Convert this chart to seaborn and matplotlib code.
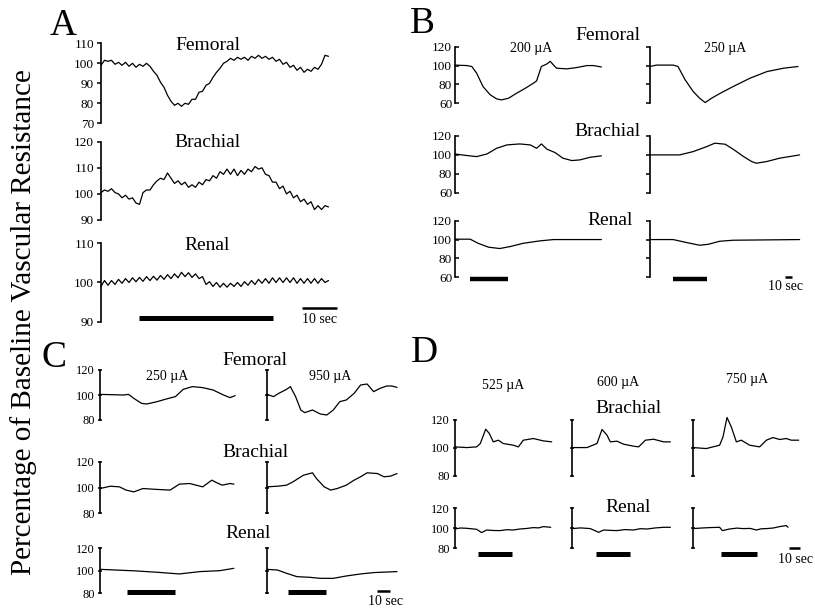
import matplotlib
matplotlib.use("Agg")
from matplotlib import pyplot as plt
import seaborn as sns

W, H = 815, 610

# ---------------- panel A : 1 s samples over 65 s ----------------
a_t = list(range(66))
a_femoral = [99, 101.5, 101, 101.5, 99.5, 100.5, 99, 100.5, 98.5, 100,
             98, 99.5, 98.5, 100, 98.5, 96, 94, 90.5, 88, 84,
             81, 79, 80, 78.5, 80, 79.5, 82, 82, 85.5, 86,
             89, 90, 93, 95.5, 97.5, 100, 101, 102.5, 101.5, 103,
             102, 103, 101.5, 103.5, 102.5, 104, 102.5, 103.5, 102, 103,
             101, 102, 99.5, 100.5, 98, 99, 96.5, 98, 95.5, 97,
             96, 98, 97, 99.5, 104, 103.5]
a_brachial = [100.5, 101.5, 101, 102, 100.5, 100, 98.5, 99.5, 98, 98.5,
              96.5, 96, 100.5, 101.5, 101.5, 103.5, 105, 106, 105.5, 108,
              106, 104, 105, 103.5, 104.5, 102.5, 103.5, 102.5, 104.5, 103.5,
              105.5, 105, 107, 106, 108.5, 107.5, 109.5, 107.5, 109.5, 107,
              109, 107.5, 109.5, 108.5, 110.5, 109.5, 110, 107.5, 107, 104.5,
              104.5, 102, 103, 100, 101, 98.5, 99.5, 97, 98, 96,
              97, 94, 95.5, 94, 95.5, 95]
a_renal = [99, 100.5, 99.3, 100.5, 99.5, 100.8, 99.8, 101, 100, 101.2,
           100.2, 101.3, 100.3, 101.5, 100.5, 101.6, 100.6, 101.8, 100.8, 102,
           101, 102.2, 101.2, 102.6, 101.5, 102.5, 101.3, 102.2, 101, 101.5,
           99.5, 100.2, 99, 100, 98.8, 99.8, 98.8, 99.8, 99, 100,
           99, 100.2, 99.3, 100.5, 99.5, 100.8, 99.8, 101, 99.8, 101.2,
           100, 101.2, 100, 101.2, 100, 101.2, 99.8, 101, 99.8, 101,
           99.8, 101, 99.8, 101, 100, 100.5]
a_stim = [10.9, 49.1]

# ---------------- panel B : 200 uA and 250 uA ----------------
b_fem_200_t = [0, 15, 21, 27, 35, 44, 52, 58, 67, 77, 88, 98, 102, 108, 115, 119, 123, 127, 140, 152, 165, 173, 183]
b_fem_200 = [100.5, 100, 99, 92, 77.8, 69, 64.7, 63.6, 65.4, 70.7, 76, 81.3, 83.8, 99, 101.8, 104.5, 100.7, 97.2, 96.5, 97.9, 100, 100, 98.5]
b_fem_250_t = [0, 8, 29, 35, 44, 54, 62, 69, 77, 88, 104, 125, 146, 167, 185]
b_fem_250 = [99, 100.5, 100.5, 99, 84.8, 72.5, 65.4, 60.8, 65.4, 70.7, 77.8, 86.6, 93.6, 97.2, 99]
b_bra_200_t = [0, 15, 27, 40, 52, 65, 81, 94, 102, 108, 115, 125, 135, 146, 156, 169, 183]
b_bra_200 = [101, 99.3, 98.2, 101, 107, 110.6, 111.6, 110.6, 107, 111.6, 106, 102.5, 96.5, 94, 94.7, 97.5, 99]
b_bra_250_t = [0, 37, 54, 71, 81, 94, 104, 117, 127, 133, 146, 162, 187]
b_bra_250 = [100, 100, 103.5, 108.8, 112.4, 111.3, 106, 98.2, 93, 91.2, 93, 96.5, 100]
b_ren_200_t = [0, 19, 29, 42, 56, 69, 85, 106, 123, 183]
b_ren_200 = [100.4, 100.4, 96, 91.9, 90.5, 92.6, 96, 98.6, 100, 100]
b_ren_250_t = [0, 29, 46, 62, 73, 87, 104, 187]
b_ren_250 = [100, 100, 96.8, 94, 95, 98.2, 99.3, 100]
b_stim = [[19, 66], [29, 71]]

# ---------------- panel C : 250 uA and 950 uA ----------------
c_fem_250_t = [0, 18, 22, 26, 32, 36, 44, 51, 58, 64, 71, 79, 87, 95, 100, 104]
c_fem_250 = [100.5, 100, 100.5, 97.3, 93.3, 92.8, 94.7, 96.8, 98.7, 104.5, 106.7, 105.9, 104, 100, 97.9, 99.5]
c_fem_950_t = [0, 5, 9, 15, 18, 22, 26, 29, 35, 41, 46, 51, 56, 61, 67, 72, 77, 82, 87, 92, 96, 100]
c_fem_950 = [100.5, 98.7, 101.3, 104.5, 106.7, 98.7, 88, 85.9, 88, 84.8, 84, 88, 94.7, 96, 101.3, 108, 108.8, 102.7, 105.3, 107.2, 107.2, 106.1]
c_bra_250_t = [0, 8, 15, 20, 26, 33, 44, 54, 61, 69, 79, 86, 90, 94, 100, 103]
c_bra_250 = [99.2, 101, 100.5, 98, 96.6, 99.2, 98.5, 98, 102.6, 103.1, 100.5, 105.7, 103.6, 101.8, 103.1, 102.6]
c_bra_950_t = [0, 8, 15, 20, 28, 35, 38, 44, 49, 54, 61, 67, 72, 77, 85, 90, 95, 100]
c_bra_950 = [100.5, 101, 101.8, 104.4, 109.5, 111.4, 107, 100.5, 98, 99.2, 101.8, 105.7, 108.3, 111.4, 110.8, 108.3, 108.8, 110.8]
c_ren_250_t = [0, 26, 44, 61, 77, 92, 103]
c_ren_250 = [101.3, 100, 98.7, 97.2, 99.3, 100.1, 102.2]
c_ren_950_t = [0, 8, 15, 23, 33, 41, 51, 61, 72, 82, 100]
c_ren_950 = [101.3, 100.7, 97.8, 94.8, 94.2, 93.3, 93.3, 95.4, 97.2, 98.4, 99.3]
c_stim = [[21, 58], [16, 45]]

# ---------------- panel D : 525, 600, 750 uA ----------------
d_bra_525_t = [0, 10.6, 19.7, 23, 27.9, 31.2, 34.8, 39.4, 43.9, 53, 57.6, 62.1, 71.2, 80.3, 87.9]
d_bra_525 = [100.7, 100.2, 100.7, 103.1, 113.4, 110.3, 104.3, 105.5, 103.1, 101.9, 100.7, 105.5, 106.7, 105, 104.3]
d_bra_600_t = [0, 13.6, 22.7, 27.3, 31.8, 34.8, 40.9, 47, 56, 60.6, 66.7, 74.2, 83.3, 89.4]
d_bra_600 = [100.2, 100.2, 103.1, 113.2, 109.1, 104.3, 104.8, 102.6, 101.2, 100.7, 105.5, 106.2, 104.3, 104.3]
d_bra_750_t = [0, 12.1, 24.2, 27.3, 30.9, 34.8, 39.4, 43.9, 51.5, 60.6, 66.7, 72.7, 78.8, 84.8, 89.4, 96.1]
d_bra_750 = [100.2, 99.5, 101.9, 107.9, 121.8, 115.1, 104.3, 105.5, 101.9, 100.7, 105.5, 107.4, 106, 106.7, 105.5, 105.5]
d_ren_525_t = [0, 5, 10.6, 15, 19.7, 24.2, 28.8, 35, 40.9, 47, 53, 59, 65, 71.2, 76, 80.3, 87]
d_ren_525 = [99.3, 100.3, 100, 99.5, 99, 95.7, 98.3, 97.8, 97.7, 98.6, 98.3, 99.3, 99.8, 100.7, 100.4, 101.7, 101]
d_ren_600_t = [0, 8, 16.7, 24.2, 28.8, 35, 40.9, 48, 56, 62, 68.2, 76, 83.3, 89.4]
d_ren_600 = [99.7, 100.4, 99.7, 96, 98.3, 97.9, 97.7, 98.7, 98.3, 99.6, 99.3, 100.4, 101, 101]
d_ren_750_t = [0, 8, 15.2, 24.2, 26.7, 33.3, 40, 45.5, 52, 57.6, 62, 66.7, 73, 78.8, 84.8, 86.4]
d_ren_750 = [99.7, 100.3, 100.7, 101, 97.7, 99.3, 100.2, 99.7, 99.9, 98.3, 99.5, 99.7, 100.3, 101.7, 102.7, 101]
d_stim = [[21, 52], [22, 53], [25.5, 58]]

sns.set_theme(style="white")
plt.rcParams["font.family"] = ["Liberation Serif", "DejaVu Serif"]
plt.rcParams["text.color"] = "black"
plt.rcParams["ytick.color"] = "black"
plt.rcParams["axes.edgecolor"] = "black"

fig = plt.figure(figsize=(W / 100, H / 100), dpi=100)
fig.patch.set_facecolor("white")


def ftext(x, y, s, size, ha="center", va="baseline", **kw):
    fig.text(x / W, 1 - y / H, s, fontsize=size, ha=ha, va=va, **kw)


def trace_axes(left, top, bottom, width, ylim, pps, ticks, labels=True,
               direction="out", labelsize=9.5):
    ax = fig.add_axes([left / W, 1 - bottom / H, width / W, (bottom - top) / H])
    ax.set_ylim(*ylim)
    ax.set_xlim(0, width / pps)
    ax.patch.set_alpha(0)
    for s in ["top", "right", "bottom"]:
        ax.spines[s].set_visible(False)
    ax.spines["left"].set_linewidth(1.2)
    ax.set_xticks([])
    ax.set_yticks(ticks)
    ax.tick_params(axis="y", left=True, direction=direction, length=3, width=1.1,
                   labelsize=labelsize, pad=2, labelleft=labels)
    return ax


def draw(ax, t, v):
    sns.lineplot(x=t, y=v, ax=ax, color="black", linewidth=0.9, sort=False)
    for ln in ax.lines:
        ln.set_clip_on(False)
    ax.set_xlabel("")
    ax.set_ylabel("")


def bar(ax, t0, t1, y, lw):
    ax.plot([t0, t1], [y, y], color="black", linewidth=lw,
            solid_capstyle="butt", clip_on=False)


# ---- A ----
pps = 3.5
ax = trace_axes(101, 43.3, 123.3, 232, (70, 110), pps, [70, 80, 90, 100, 110])
draw(ax, a_t, a_femoral)
ax = trace_axes(101, 141.7, 220, 232, (90, 120), pps, [90, 100, 110, 120])
draw(ax, a_t, a_brachial)
ax = trace_axes(101, 243.3, 321.7, 232, (90, 110), pps, [90, 100, 110])
draw(ax, a_t, a_renal)
bar(ax, a_stim[0], a_stim[1], 90.9, 3.6)
bar(ax, 57.4, 67.4, 93.5, 1.8)
ftext(63, 35, "A", 27)
ftext(208, 50, "Femoral", 14)
ftext(207, 147, "Brachial", 14)
ftext(207, 250, "Renal", 14)
ftext(319, 323, "10 sec", 10)

# ---- B ----
pps = 0.8
b_fem = [(b_fem_200_t, b_fem_200), (b_fem_250_t, b_fem_250)]
b_bra = [(b_bra_200_t, b_bra_200), (b_bra_250_t, b_bra_250)]
b_ren = [(b_ren_200_t, b_ren_200), (b_ren_250_t, b_ren_250)]
for i, x0 in enumerate([455, 650]):
    lab = i == 0
    d = "in" if lab else "out"
    ax = trace_axes(x0, 46.7, 103.3, 152, (60, 120), pps, [60, 80, 100, 120], lab, d)
    draw(ax, *b_fem[i])
    ax = trace_axes(x0, 136, 192.7, 152, (60, 120), pps, [60, 80, 100, 120], lab, d)
    draw(ax, *b_bra[i])
    ax = trace_axes(x0, 220.7, 277.3, 152, (60, 120), pps, [60, 80, 100, 120], lab, d)
    draw(ax, *b_ren[i])
    bar(ax, b_stim[i][0], b_stim[i][1], 58.2, 3.2)
bar(ax, 169, 178, 60.5, 1.8)
ftext(422, 33, "B", 27)
ftext(608, 40, "Femoral", 14)
ftext(607, 136, "Brachial", 14)
ftext(610, 225, "Renal", 14)
ftext(531, 52, "200 \u00b5A", 10)
ftext(725, 52, "250 \u00b5A", 10)
ftext(786, 290, "10 sec", 10)

# ---- C ----
pps = 1.3
c_fem = [(c_fem_250_t, c_fem_250), (c_fem_950_t, c_fem_950)]
c_bra = [(c_bra_250_t, c_bra_250), (c_bra_950_t, c_bra_950)]
c_ren = [(c_ren_250_t, c_ren_250), (c_ren_950_t, c_ren_950)]
for i, x0 in enumerate([100, 267]):
    lab = i == 0
    ax = trace_axes(x0, 370, 420, 136, (80, 120), pps, [80, 100, 120], lab, "inout", 9)
    draw(ax, *c_fem[i])
    ax = trace_axes(x0, 461.7, 513.3, 136, (80, 120), pps, [80, 100, 120], lab, "inout", 9)
    draw(ax, *c_bra[i])
    ax = trace_axes(x0, 548.3, 593.3, 136, (80, 120), pps, [80, 100, 120], lab, "inout", 9)
    draw(ax, *c_ren[i])
    bar(ax, c_stim[i][0], c_stim[i][1], 81.1, 3.6)
bar(ax, 84.6, 94.6, 82.3, 1.8)
ftext(54, 367, "C", 27)
ftext(255, 365, "Femoral", 14)
ftext(255, 457, "Brachial", 14)
ftext(248, 538, "Renal", 14)
ftext(167, 380, "250 \u00b5A", 10)
ftext(330, 380, "950 \u00b5A", 10)
ftext(385, 605, "10 sec", 10)

# ---- D ----
pps = 1.1
d_bra = [(d_bra_525_t, d_bra_525), (d_bra_600_t, d_bra_600), (d_bra_750_t, d_bra_750)]
d_ren = [(d_ren_525_t, d_ren_525), (d_ren_600_t, d_ren_600), (d_ren_750_t, d_ren_750)]
for i, (x0, w) in enumerate([(455, 98), (572, 99), (693, 107)]):
    lab = i == 0
    ax = trace_axes(x0, 420, 475.7, w, (80, 120), pps, [80, 100, 120], lab, "inout", 9)
    draw(ax, *d_bra[i])
    ax = trace_axes(x0, 508.3, 548.3, w, (80, 120), pps, [80, 100, 120], lab, "inout", 9)
    draw(ax, *d_ren[i])
    bar(ax, d_stim[i][0], d_stim[i][1], 74.3, 3.6)
bar(ax, 87, 97, 80.5, 1.8)
ftext(424, 362, "D", 27)
ftext(503, 389, "525 \u00b5A", 10)
ftext(618, 386, "600 \u00b5A", 10)
ftext(747, 383, "750 \u00b5A", 10)
ftext(628, 413, "Brachial", 14)
ftext(628, 512, "Renal", 14)
ftext(795, 563, "10 sec", 10)

# shared y label
ftext(24, 322, "Percentage of Baseline Vascular Resistance", 21, va="center", rotation=90)

fig.savefig("out.png", dpi=100, facecolor="white")
